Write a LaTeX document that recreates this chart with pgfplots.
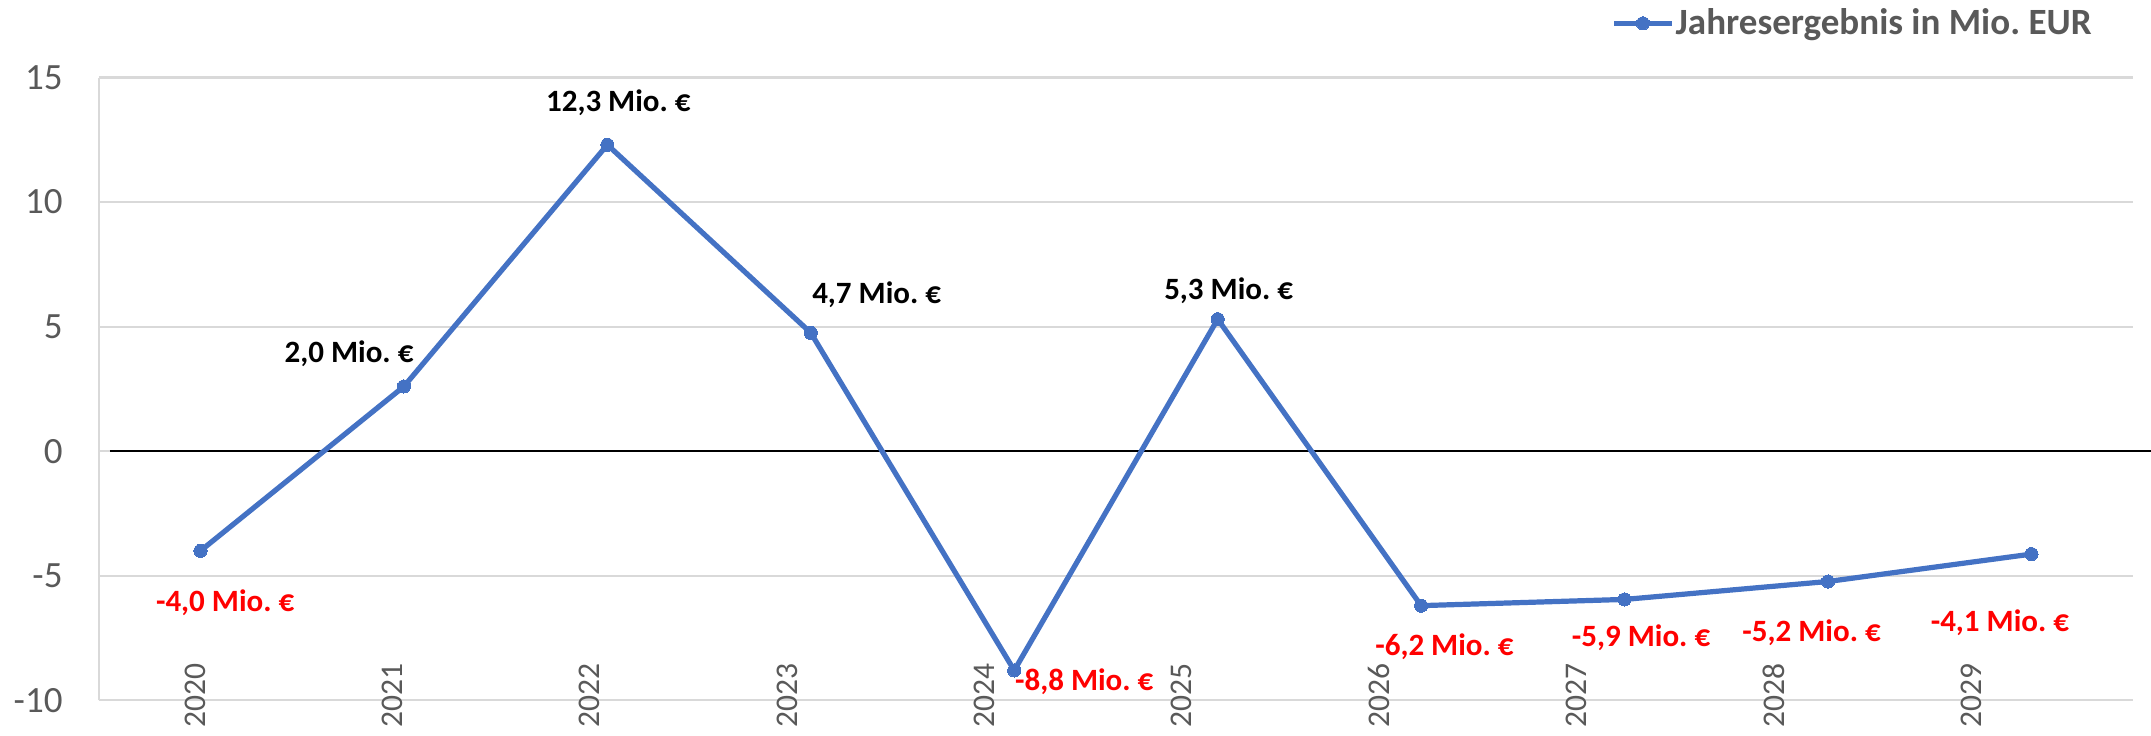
\documentclass[border=0pt]{standalone}
\usepackage{fontspec}
\setmainfont{Carlito}
\usepackage{pgfplots}
\usepackage{pgfplotstable}
\pgfplotsset{compat=1.18}
\frenchspacing
\definecolor{exblue}{HTML}{4472C4}
\definecolor{tickgray}{HTML}{595959}
\definecolor{gridgray}{HTML}{D9D9D9}
\definecolor{exred}{HTML}{FF0000}

\pgfplotstableread{
x y
0 -4.0
1 2.6
2 12.3
3 4.75
4 -8.8
5 5.3
6 -6.2
7 -5.95
8 -5.23
9 -4.13
}\mydata

\pgfplotstableread{
x y dx dy lab
1 2.6 -20 12 {2,0 Mio. €}
2 12.3 4 15.5 {12,3 Mio. €}
3 4.75 24 14 {4,7 Mio. €}
5 5.3 4 10.5 {5,3 Mio. €}
}\poslab

\pgfplotstableread{
x y dx dy lab
0 -4.0 9 -19 {-4,0 Mio. €}
4 -8.8 25.5 -4 {-8,8 Mio. €}
6 -6.2 8.5 -15 {-6,2 Mio. €}
7 -5.95 6 -14 {-5,9 Mio. €}
8 -5.23 -6 -18.5 {-5,2 Mio. €}
9 -4.13 -11.5 -25 {-4,1 Mio. €}
}\neglab

\begin{document}
\frenchspacing
\begin{tikzpicture}
\useasboundingbox (-36pt,-12.75pt) rectangle (748pt,255.25pt);
\begin{axis}[
  scale only axis,
  width=741.5pt, height=227pt,
  clip=false,
  xmin=-0.5, xmax=9.5,
  ymin=-10, ymax=15,
  axis lines*=left,
  axis line style={draw=gridgray, line width=0.75pt},
  ymajorgrids,
  grid style={draw=gridgray, line width=0.75pt},
  major tick length=0pt,
  ytick={-10,-5,0,5,10,15},
  yticklabels={-10,-5,0,5,10,15},
  yticklabel style={anchor=east, inner sep=0pt, text=tickgray, font=\fontsize{13.5}{15}\selectfont},
  yticklabel shift=13pt,
  xtick={-0.027,0.943,1.913,2.883,3.853,4.823,5.793,6.763,7.733,8.703},
  xticklabels={2020,2021,2022,2023,2024,2025,2026,2027,2028,2029},
  xticklabel style={rotate=90, anchor=west, inner sep=0pt, text=tickgray, font=\fontsize{11.5}{13}\selectfont},
  xticklabel shift=10.25pt,
  legend style={at={(axis description cs:0.9805,1.087)}, anchor=east, draw=none, fill=none,
    inner sep=0pt, font=\bfseries\fontsize{13.5}{15}\selectfont, text=tickgray,
    nodes={inner sep=0.5pt}},
  legend image code/.code={\draw[#1, mark repeat=2, mark phase=2] plot coordinates {(0pt,0pt) (10.5pt,0pt) (21pt,0pt)};},
]
\addplot[black, line width=0.8pt, forget plot] coordinates {(-0.445,0) (9.59,0)};
\addplot[exblue, line width=1.9pt, mark=*, mark size=2.4pt, mark options={fill=exblue, draw=exblue, line width=0pt}] table[x=x,y=y]{\mydata};
\addlegendentry{Jahresergebnis in Mio. EUR}
\addplot[draw=none, mark=none, forget plot, nodes near coords, point meta=explicit symbolic,
  visualization depends on={\thisrow{dx}\as\dx},
  visualization depends on={\thisrow{dy}\as\dy},
  every node near coord/.append style={anchor=center, inner sep=0pt, xshift=\dx pt, yshift=\dy pt,
    text=black, font=\bfseries\fontsize{11.3}{13}\selectfont}]
  table[x=x,y=y,meta=lab]{\poslab};
\addplot[draw=none, mark=none, forget plot, nodes near coords, point meta=explicit symbolic,
  visualization depends on={\thisrow{dx}\as\dx},
  visualization depends on={\thisrow{dy}\as\dy},
  every node near coord/.append style={anchor=center, inner sep=0pt, xshift=\dx pt, yshift=\dy pt,
    text=exred, font=\bfseries\fontsize{11.3}{13}\selectfont}]
  table[x=x,y=y,meta=lab]{\neglab};
\end{axis}
\end{tikzpicture}
\end{document}
